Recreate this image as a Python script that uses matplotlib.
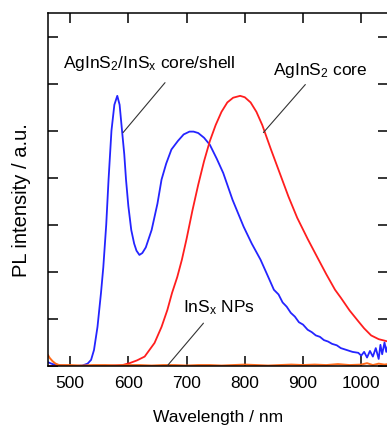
import numpy as np
import matplotlib
matplotlib.use("Agg")
import matplotlib.pyplot as plt

plt.rcParams["font.family"] = ["Liberation Sans", "DejaVu Sans"]
plt.rcParams["mathtext.fontset"] = "custom"
plt.rcParams["mathtext.rm"] = "Liberation Sans"
plt.rcParams["mathtext.it"] = "Liberation Sans"

# ---- data (wavelength in nm, intensity in a.u.) ----
blue_x = [462, 470, 480, 490, 500, 510, 521, 530, 536, 541, 547, 553, 557, 562,
          566, 571, 576, 581, 585, 589, 593, 596, 600, 605, 610, 614, 619, 624,
          630, 640, 650, 657, 665, 674, 685, 695, 705, 712, 720, 730, 740, 752,
          763, 779, 798, 812, 827, 840, 850, 858, 865, 872, 879, 886, 893, 900,
          908, 915, 922, 929, 936, 943, 950, 958, 965, 975, 985, 995, 1000, 1005,
          1010, 1015, 1020, 1025, 1030, 1033, 1036, 1040, 1043, 1046]
blue_y = [0.08, 0.04, 0.02, 0.01, 0.0, 0.0, 0.01, 0.05, 0.13, 0.34, 0.83, 1.55, 2.1, 3.0,
          3.96, 5.0, 5.55, 5.74, 5.55, 5.02, 4.5, 3.96, 3.4, 2.89, 2.6, 2.45, 2.36, 2.4,
          2.52, 2.89, 3.45, 3.96, 4.3, 4.6, 4.78, 4.92, 4.98, 4.98, 4.95, 4.85, 4.7, 4.4,
          4.1, 3.53, 2.96, 2.6, 2.26, 1.9, 1.62, 1.52, 1.35, 1.26, 1.13, 1.05, 0.93, 0.88,
          0.77, 0.72, 0.65, 0.62, 0.55, 0.52, 0.47, 0.44, 0.38, 0.34, 0.3, 0.28, 0.22, 0.3,
          0.18, 0.32, 0.2, 0.38, 0.15, 0.45, 0.25, 0.5, 0.3, 0.45]

red_x = [462, 480, 500, 550, 590, 602, 615, 628, 645, 657, 667, 675, 684, 692, 700,
         710, 720, 730, 740, 750, 760, 770, 780, 792, 800, 810, 820, 830, 845, 860,
         875, 890, 908, 925, 940, 955, 965, 980, 995, 1005, 1017, 1030, 1046]
red_y = [0.0, 0.0, 0.0, 0.0, 0.02, 0.06, 0.12, 0.2, 0.49, 0.83, 1.19, 1.55, 1.89, 2.26, 2.7,
         3.3, 3.85, 4.35, 4.78, 5.12, 5.4, 5.6, 5.7, 5.74, 5.71, 5.6, 5.4, 5.12, 4.6, 4.1,
         3.6, 3.15, 2.7, 2.3, 1.95, 1.62, 1.45, 1.18, 0.95, 0.8, 0.65, 0.57, 0.52]

orange_x = [462, 465, 470, 475, 481, 500, 520, 540, 560, 580, 600, 620, 640, 660,
            680, 700, 720, 740, 760, 780, 800, 820, 840, 860, 880, 900, 920, 940,
            960, 980, 1000, 1010, 1020, 1030, 1040, 1046]
orange_y = [0.23, 0.17, 0.1, 0.05, 0.02, 0.02, 0.01, 0.02, 0.02, 0.01, 0.02, 0.02, 0.01, 0.02,
            0.02, 0.01, 0.02, 0.02, 0.01, 0.02, 0.03, 0.02, 0.01, 0.02, 0.03, 0.02, 0.03, 0.02,
            0.04, 0.02, 0.03, 0.06, 0.02, 0.05, 0.03, 0.04]

x_ticks = [500, 600, 700, 800, 900, 1000]
y_ticks = [0, 1, 2, 3, 4, 5, 6, 7]

W, H = 387, 430
fig = plt.figure(figsize=(W / 100, H / 100), dpi=100)
ax = fig.add_axes([48 / W, 1 - 366 / H, 340 / W, 353 / H])

ax.plot(blue_x, blue_y, color="#2424ff", lw=1.3)
ax.plot(red_x, red_y, color="#ff1e1e", lw=1.3)
ax.plot(orange_x, orange_y, color="#ff6a1a", lw=1.4)

ax.set_xlim(462, 1046)
ax.set_ylim(0, 7.5)
ax.set_xticks(x_ticks)
ax.set_yticks(y_ticks)
ax.set_yticklabels([])
ax.tick_params(direction="in", top=True, right=True, length=7, width=1.1,
               labelsize=12.5, pad=7)
for sp in ax.spines.values():
    sp.set_linewidth(1.1)

ax.set_xlabel("Wavelength / nm", fontsize=12.5)
ax.xaxis.set_label_coords(0.5, -0.125)
ax.set_ylabel("PL intensity / a.u.", fontsize=14.5)
ax.yaxis.set_label_coords(-0.05, 0.47)

line = dict(arrowstyle="-", color="#333333", lw=0.8, shrinkA=0, shrinkB=0)
ax.annotate(r"AgInS$_2$/InS$_x$ core/shell", xy=(591, 4.96), xytext=(488, 6.43),
            fontsize=12.5, va="center", ha="left")
ax.annotate("", xy=(591, 4.96), xytext=(663, 6.02), arrowprops=line)
ax.annotate(r"AgInS$_2$ core", xy=(832, 4.96), xytext=(849, 6.28),
            fontsize=12.5, va="center", ha="left")
ax.annotate("", xy=(832, 4.96), xytext=(904, 5.98), arrowprops=line)
ax.annotate(r"InS$_x$ NPs", xy=(668, 0.02), xytext=(694, 1.23),
            fontsize=12.5, va="center", ha="left")
ax.annotate("", xy=(668, 0.02), xytext=(729, 0.91), arrowprops=line)

fig.savefig("out.png", dpi=100)
